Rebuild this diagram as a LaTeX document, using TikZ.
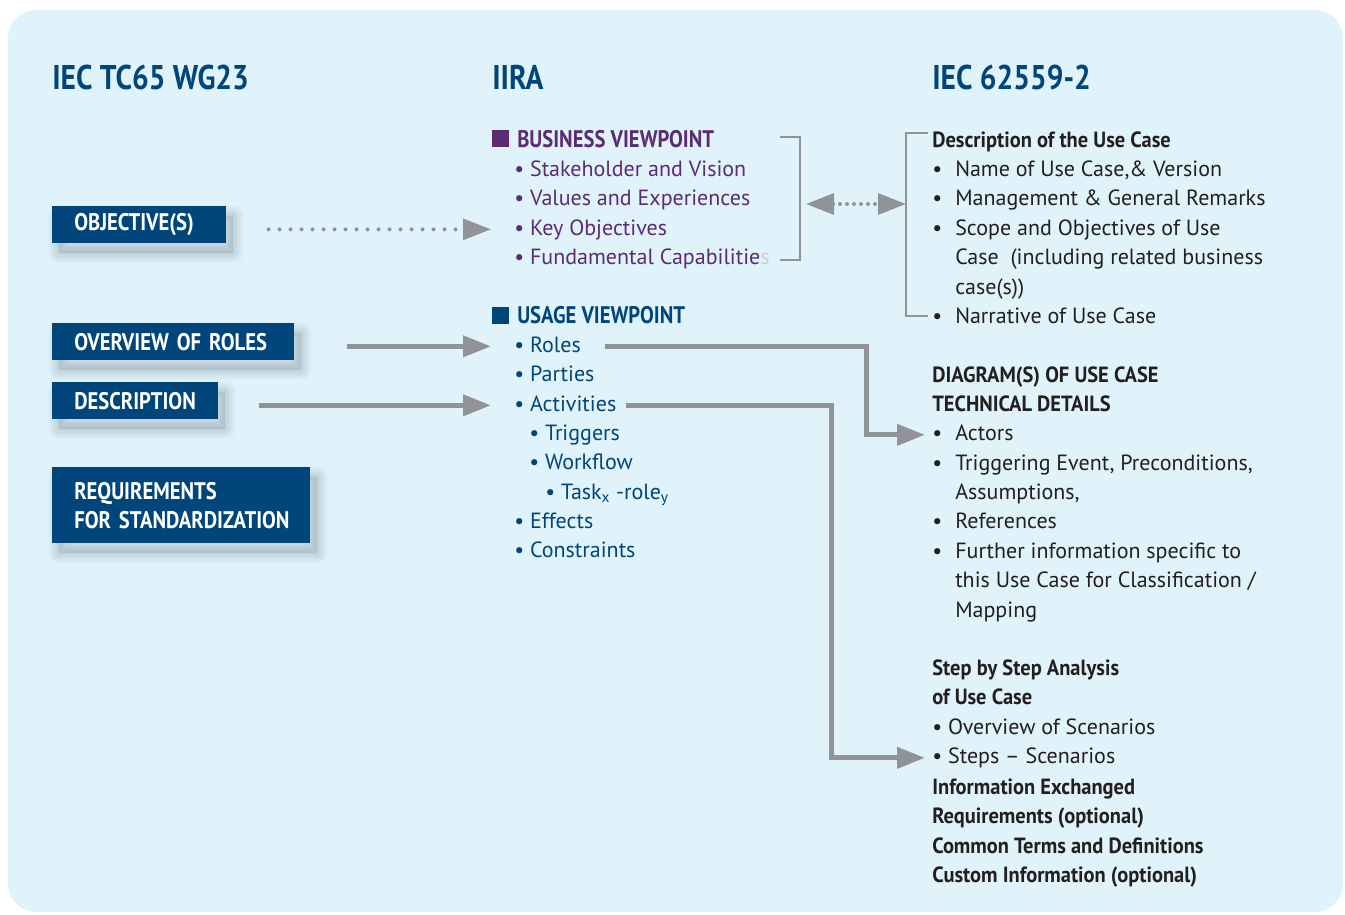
\documentclass[tikz,border=0pt]{standalone}
\usepackage{fontspec}
\setmainfont{PT Sans}
\newfontfamily\condfont{PT Sans}[FakeStretch=0.86]
\newfontfamily\semicond{PT Sans}[FakeStretch=0.93]
\usetikzlibrary{arrows.meta,shadows}

\definecolor{bgblue}{HTML}{E0F2FA}
\definecolor{iecblue}{HTML}{00467A}
\definecolor{iirapurple}{HTML}{5B2C74}
\definecolor{arrgray}{HTML}{929398}
\definecolor{txtdark}{HTML}{231F20}
\definecolor{fadegray}{HTML}{C5CCD2}
\definecolor{shadegray}{HTML}{3A4A55}

\tikzset{
  shadelayer/.style={general shadow={draw=shadegray,draw opacity=0.025,line width=#1,
    line join=round,shadow xshift=5pt,shadow yshift=-7pt}},
  boxshadow/.style={
    general shadow={fill=shadegray,fill opacity=0.10,shadow xshift=5pt,shadow yshift=-7pt},
    shadelayer=2pt,shadelayer=4pt,shadelayer=6pt,shadelayer=8pt,
    shadelayer=10pt,shadelayer=12pt,shadelayer=14pt,shadelayer=16pt},
  colhead/.style={anchor=base west,inner sep=0,text=iecblue,
    font=\condfont\bfseries\fontsize{25.7}{30}\selectfont},
  bluebox/.style={anchor=north west,fill=iecblue,text=white,align=left,
    inner xsep=16.5pt,inner ysep=0pt,minimum height=27.75pt,boxshadow,
    font=\condfont\bfseries\fontsize{18}{21.75}\selectfont},
  vphead/.style={anchor=base west,inner sep=0,font=\condfont\bfseries\fontsize{18}{22}\selectfont},
  vpsq/.style={anchor=north west,inner sep=0,minimum size=12.75pt},
  item/.style={anchor=base west,inner sep=0,text height=12pt,text depth=3.5pt,
    font=\fontsize{16.5}{20}\selectfont},
  bizitem/.style={item,text=iirapurple},
  useitem/.style={item,text=iecblue},
  ucitem/.style={item,text=txtdark},
  uchead/.style={ucitem,font=\semicond\bfseries\fontsize{16.5}{20}\selectfont},
  arr/.style={draw=arrgray,line width=3.75pt,-{Triangle[length=21pt,width=15.5pt]}},
  dotarr/.style={arr,line width=3pt,line cap=round,dash pattern=on 0pt off 8.25pt},
  brk/.style={draw=arrgray,line width=1.5pt},
}
\newcommand{\rbul}{\makebox[17.25pt][l]{\textbullet}}

\begin{document}
\begin{tikzpicture}[x=0.75pt,y=-0.75pt]
\useasboundingbox (0,0) rectangle (1345,914);
\fill[bgblue,rounded corners=21pt] (8,10) rectangle (1343,912);

% column headings
\node[colhead] (hdwg) at (52,89) {IEC TC65 WG23};
\node[colhead] (hdiira) at (492,89) {IIRA};
\node[colhead] (hdiec) at (932,89) {IEC 62559-2};

% left boxes
\node[bluebox,text width=97.5pt] (objbox) at (52,206) {\mbox{OBJECTIVE(S)}};
\node[bluebox,text width=148.5pt] (rolesbox) at (52,323) {\mbox{OVERVIEW OF ROLES}};
\node[bluebox,text width=91.5pt] (descbox) at (52,382) {\mbox{DESCRIPTION}};
\node[bluebox,text width=160.5pt,minimum height=57pt] (reqbox) at (52,467)
  {\mbox{REQUIREMENTS}\\\mbox{FOR STANDARDIZATION}};

% business viewpoint
\node[vpsq,fill=iirapurple] (bizsq) at (492,130) {};
\node[vphead,text=iirapurple] (bizhd) at (517,147) {BUSINESS VIEWPOINT};
\node[bizitem] (bizstake) at (514,176) {\textbullet\ Stakeholder and Vision};
\node[bizitem] (bizvalue) at (514,205.5) {\textbullet\ Values and Experiences};
\node[bizitem] (bizkey) at (514,235) {\textbullet\ Key Objectives};
\node[bizitem] (bizfund) at (514,264.5) {\textbullet\ Fundamental Capabilitie{\color{fadegray}s}};

% usage viewpoint
\node[vpsq,fill=iecblue] (usesq) at (492,307) {};
\node[vphead,text=iecblue] (usehd) at (517,323) {USAGE VIEWPOINT};
\node[useitem] (useroles) at (514,352) {\textbullet\ Roles};
\node[useitem] (useparties) at (514,381.5) {\textbullet\ Parties};
\node[useitem] (useact) at (514,411) {\textbullet\ Activities};
\node[useitem] (usetrig) at (529,440) {\textbullet\ Triggers};
\node[useitem] (usework) at (529,469.5) {\textbullet\ Workflow};
\node[useitem] (usetask) at (545,499) {\textbullet\ Task\textsubscript{x} -role\textsubscript{y}};
\node[useitem] (useeff) at (514,528) {\textbullet\ Effects};
\node[useitem] (usecons) at (514,557.5) {\textbullet\ Constraints};

% use case template
\node[uchead] (ucdesc) at (932,147) {Description of the Use Case};
\node[ucitem] (ucname) at (932,176) {\rbul Name of Use Case,\& Version};
\node[ucitem] (ucmgmt) at (932,205.5) {\rbul Management \& General Remarks};
\node[ucitem] (ucscope) at (932,235) {\rbul Scope and Objectives of Use};
\node[ucitem] (ucscopeb) at (955,264.5) {Case\ \ (including related business};
\node[ucitem] (ucscopec) at (955,294) {case(s))};
\node[ucitem] (ucnarr) at (932,323.5) {\rbul Narrative of Use Case};

\node[uchead] (ucdiag) at (932,382) {DIAGRAM(S) OF USE CASE};
\node[uchead] (uctech) at (932,411) {TECHNICAL DETAILS};
\node[ucitem] (ucactors) at (932,440.5) {\rbul Actors};
\node[ucitem] (uctrig) at (932,470) {\rbul Triggering Event, Preconditions,};
\node[ucitem] (uctrigb) at (955,499) {Assumptions,};
\node[ucitem] (ucref) at (932,528.5) {\rbul References};
\node[ucitem] (ucfurther) at (932,558) {\rbul Further information specific to};
\node[ucitem] (ucfurtherb) at (955,587.5) {this Use Case for Classification /};
\node[ucitem] (ucfurtherc) at (955,617) {Mapping};

\node[uchead] (ucstep) at (932,675) {Step by Step Analysis};
\node[uchead] (ucstepb) at (932,704) {of Use Case};
\node[ucitem] (ucover) at (932,734) {\textbullet\ Overview of Scenarios};
\node[ucitem] (ucsteps) at (932,763.5) {\textbullet\ Steps -- Scenarios};
\node[uchead] (ucinfo) at (932,794) {Information Exchanged};
\node[uchead] (ucreq) at (932,823.5) {Requirements (optional)};
\node[uchead] (ucterms) at (932,853) {Common Terms and Definitions};
\node[uchead] (uccustom) at (932,882.5) {Custom Information (optional)};

% brackets
\coordinate (bizbrk) at (800,204);
\coordinate (ucbrk) at (906,204);
\draw[brk] (780,137) -| (bizbrk) |- (780,260);
\draw[brk] (928,133) -| (ucbrk) |- (928,316);

% connectors
\coordinate (rolesbend) at (866,0);
\coordinate (actbend) at (831,0);
\draw[dotarr,shorten <=31.5pt,shorten >=17.25pt] (objbox.east |- bizkey.west) -- (bizkey.west);
\draw[dotarr,{Triangle[length=21pt,width=15.5pt]}-{Triangle[length=21pt,width=15.5pt]},
  dash pattern=on 0pt off 5.25pt,shorten <=4.5pt,shorten >=0pt] (bizbrk) -- (ucbrk);
\draw[arr,shorten <=39pt,shorten >=17.25pt] (rolesbox.east |- useroles.west) -- (useroles.west);
\draw[arr,shorten <=30pt,shorten >=17.25pt] (descbox.east |- useact.west) -- (useact.west);
\draw[arr,shorten <=18pt,shorten >=5.25pt] (useroles.east) -- (useroles.east -| rolesbend) |- (ucactors.west);
\draw[arr,shorten <=6.75pt,shorten >=5.25pt] (useact.east) -- (useact.east -| actbend) |- (ucsteps.west);
\end{tikzpicture}
\end{document}
